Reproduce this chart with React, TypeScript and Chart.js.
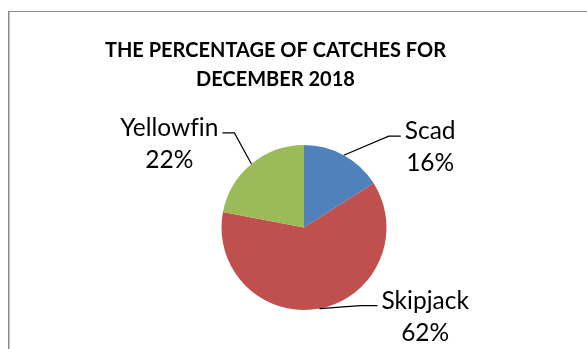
import React, { useEffect, useRef } from 'react';
import { Chart, registerables } from 'chart.js';

Chart.register(...registerables);

const categories = ['Scad', 'Skipjack', 'Yellowfin'];
const percentages = [16, 62, 22];
const sliceColors = ['#4F81BD', '#C0504D', '#9BBB59'];
const titleLines = ['THE PERCENTAGE OF CATCHES FOR', 'DECEMBER 2018'];

// leader-line styling per label (offsets from the arc's mid-point on its rim)
const leaderStyle = [
  { elbow: [45, -19], run: 12, side: 1 },
  { elbow: [41, -3], run: 17, side: 1 },
  { elbow: [-17, -31], run: 12, side: -1 },
];

const FONT_FAMILY = 'Lato, "Open Sans", sans-serif';
const TITLE_FONT = `bold 20px ${FONT_FAMILY}`;
const LABEL_FONT = `24.5px ${FONT_FAMILY}`;

const decorPlugin = {
  id: 'decor',
  beforeDraw(chart: any) {
    const ctx = chart.ctx;
    ctx.save();
    // outer frame (only top and left visible in the crop)
    ctx.fillStyle = '#8a8a8a';
    ctx.fillRect(8, 11, 700, 1);
    ctx.fillRect(8, 11, 1, 400);
    ctx.fillStyle = '#c4c4c4';
    ctx.fillRect(9, 12, 1, 400);
    ctx.restore();
  },
  afterDraw(chart: any) {
    const ctx = chart.ctx;
    ctx.save();
    // title
    ctx.fillStyle = '#000';
    ctx.font = TITLE_FONT;
    ctx.textAlign = 'center';
    ctx.textBaseline = 'alphabetic';
    ctx.fillText(titleLines[0], 275.5, 57);
    ctx.fillText(titleLines[1], 275.5, 86);

    // data labels with leader lines
    const meta = chart.getDatasetMeta(0);
    const data = chart.data.datasets[0].data as number[];
    meta.data.forEach((arc: any, i: number) => {
      const { x, y, startAngle, endAngle, outerRadius } = arc.getProps(
        ['x', 'y', 'startAngle', 'endAngle', 'outerRadius'],
        true
      );
      const mid = (startAngle + endAngle) / 2;
      const ax = x + Math.cos(mid) * outerRadius;
      const ay = y + Math.sin(mid) * outerRadius;
      const st = leaderStyle[i];
      const ex = ax + st.elbow[0];
      const ey = ay + st.elbow[1];
      const tx = ex + st.side * st.run;
      ctx.strokeStyle = '#000';
      ctx.lineWidth = 1.2;
      ctx.beginPath();
      ctx.moveTo(ax, ay);
      ctx.lineTo(ex, ey);
      ctx.lineTo(tx, ey);
      ctx.stroke();

      const lines = [String(chart.data.labels[i]), `${data[i]}%`];
      ctx.font = LABEL_FONT;
      (ctx as any).letterSpacing = '0.01px';
      const maxW = Math.max(...lines.map((l) => ctx.measureText(l).width));
      const cx = tx + st.side * (4 + maxW / 2);
      ctx.fillStyle = '#000';
      ctx.textAlign = 'center';
      ctx.fillText(lines[0], cx, ey + 3);
      ctx.fillText(lines[1], cx, ey + 35);
    });
    ctx.restore();
  },
};

export default function App() {
  const canvasRef = useRef<HTMLCanvasElement | null>(null);

  useEffect(() => {
    if (!canvasRef.current) return;
    const chart = new Chart(canvasRef.current, {
      type: 'pie',
      data: {
        labels: categories,
        datasets: [
          {
            data: percentages,
            backgroundColor: sliceColors,
            borderWidth: 0,
            hoverOffset: 0,
          },
        ],
      },
      options: {
        animation: false,
        responsive: false,
        devicePixelRatio: 1,
        events: [],
        layout: { padding: { left: 221.5, right: 200.5, top: 145, bottom: 39 } },
        plugins: {
          legend: { display: false },
          title: { display: false },
          tooltip: { enabled: false },
        },
      },
      plugins: [decorPlugin],
    });
    return () => chart.destroy();
  }, []);

  return (
    <div style={{ position: 'absolute', left: 0, top: 0, width: 587, height: 349, background: '#fff' }}>
      <canvas ref={canvasRef} width={587} height={349} />
    </div>
  );
}
